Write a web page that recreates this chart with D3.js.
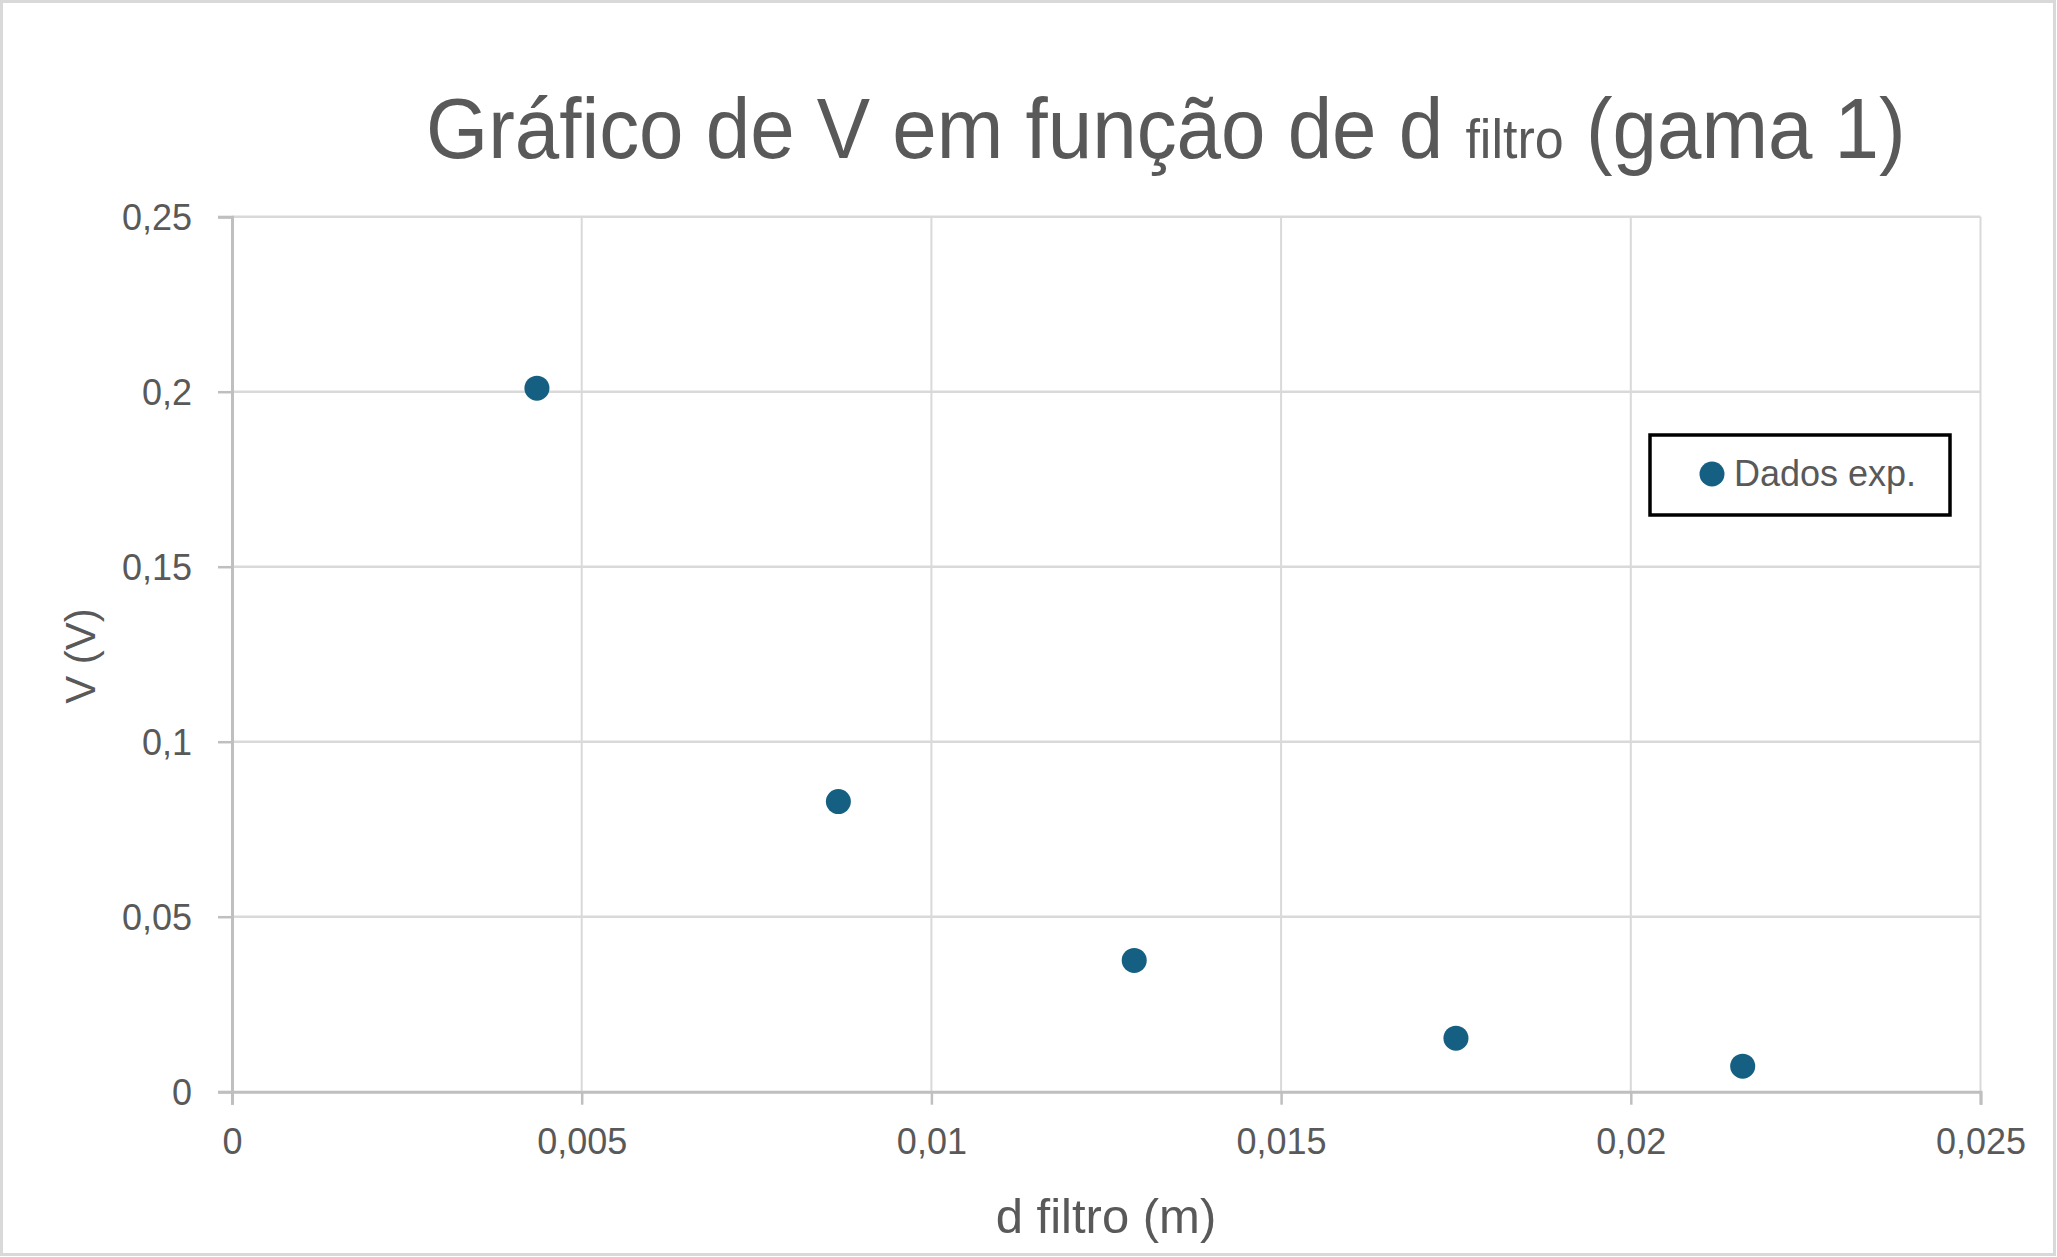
<!DOCTYPE html>
<html><head><meta charset="utf-8">
<script src="https://cdn.jsdelivr.net/npm/d3@7"></script>
<style>
body{margin:0;background:#fff;}
text{font-family:"Liberation Sans",Arial,sans-serif;fill:#595959;}
</style></head>
<body><svg id="c" width="2057" height="1257"></svg>
<script>
const xValues = [0.00436, 0.00867, 0.0129, 0.0175, 0.0216];
const yValues = [0.201, 0.0829, 0.0375, 0.0153, 0.0073];
const xTicks = [0, 0.005, 0.01, 0.015, 0.02, 0.025];
const yTicks = [0, 0.05, 0.1, 0.15, 0.2, 0.25];
const xTickLabels = ["0","0,005","0,01","0,015","0,02","0,025"];
const yTickLabels = ["0","0,05","0,1","0,15","0,2","0,25"];
const seriesName = "Dados exp.";

const svg = d3.select("#c");
const W=2057,H=1257;
const m={l:232,r:W-1980.5,t:216.7,b:H-1091.7};
svg.append("rect").attr("x",1.5).attr("y",1.5).attr("width",W-4).attr("height",H-4)
  .attr("fill","#fff").attr("stroke","#d9d9d9").attr("stroke-width",3);

const x=d3.scaleLinear().domain([0,0.025]).range([m.l,W-m.r]);
const y=d3.scaleLinear().domain([0,0.25]).range([H-m.b,m.t]);

// grid
const g=svg.append("g");
g.selectAll(".vg").data(xTicks.slice(1)).enter().append("line")
 .attr("x1",d=>x(d)).attr("x2",d=>x(d)).attr("y1",y(0.25)).attr("y2",y(0))
 .attr("stroke","#d9d9d9").attr("stroke-width",2);
g.selectAll(".hg").data(yTicks.slice(1)).enter().append("line")
 .attr("x1",x(0)).attr("x2",x(0.025)).attr("y1",d=>y(d)).attr("y2",d=>y(d))
 .attr("stroke","#d9d9d9").attr("stroke-width",2.5);

// axes
const xa=svg.append("g").attr("transform",`translate(0,${y(0)})`)
 .call(d3.axisBottom(x).tickValues(xTicks).tickFormat((d,i)=>xTickLabels[i]).tickSize(13).tickPadding(24));
const ya=svg.append("g").attr("transform",`translate(${x(0)},0)`)
 .call(d3.axisLeft(y).tickValues(yTicks).tickFormat((d,i)=>yTickLabels[i]).tickSize(14).tickPadding(26));
[xa,ya].forEach(a=>{
  a.select(".domain").attr("stroke","#bfbfbf").attr("stroke-width",3);
  a.selectAll(".tick line").attr("stroke","#bfbfbf").attr("stroke-width",2.5);
  a.selectAll(".tick text").style("font-size","36px").attr("fill","#595959")
   .style("font-family",'"Liberation Sans",Arial,sans-serif');
});
xa.selectAll(".tick text").attr("dy","0.71em");
ya.selectAll(".tick text").attr("dy","0.36em");

// points
svg.selectAll(".pt").data(xValues).enter().append("circle")
 .attr("cx",(d)=>x(d)).attr("cy",(d,i)=>y(yValues[i])).attr("r",12.5).attr("fill","#156082");

// title
const tg=svg.append("g");
const t=tg.append("text").attr("x",0).attr("y",0).attr("text-anchor","start").style("font-size","86px");
t.append("tspan").text("Gráfico de V em função de d ");
t.append("tspan").style("font-size","56px").text("filtro");
t.append("tspan").text(" (gama 1)");
const tw=t.node().getComputedTextLength();
tg.attr("transform",`translate(426,158) scale(${1480/tw},1)`);

// axis titles
svg.append("text").attr("x",1106).attr("y",1233).attr("text-anchor","middle").style("font-size","49px").text("d filtro (m)");
svg.append("text").attr("transform","translate(95,656) rotate(-90)").attr("text-anchor","middle").style("font-size","42px").text("V (V)");

// legend
svg.append("rect").attr("x",1650).attr("y",435).attr("width",300).attr("height",80)
 .attr("fill","#fff").attr("stroke","#000").attr("stroke-width",3.5);
svg.append("circle").attr("cx",1712).attr("cy",474).attr("r",12.5).attr("fill","#156082");
svg.append("text").attr("x",1734).attr("y",486).style("font-size","36px").text(seriesName);
</script></body></html>
